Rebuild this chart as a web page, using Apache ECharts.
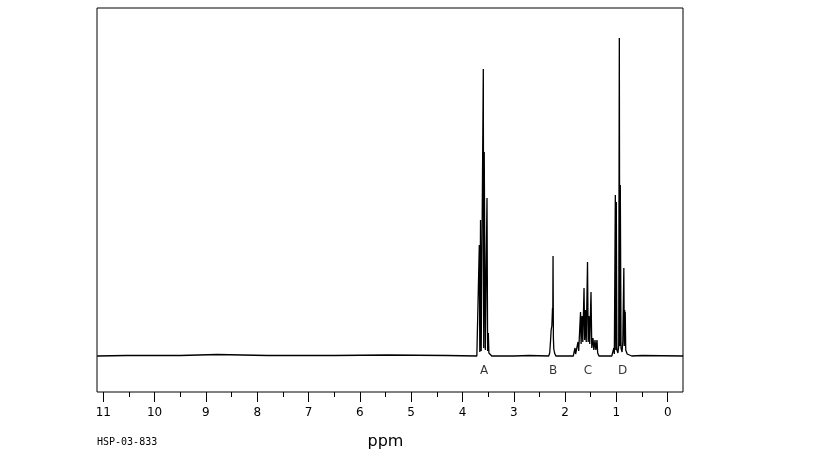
<!DOCTYPE html>
<html>
<head>
<meta charset="utf-8">
<script src="https://cdn.jsdelivr.net/npm/echarts@6/dist/echarts.min.js"></script>
<style>html,body{margin:0;padding:0;background:#fff}#c{width:819px;height:460px}</style>
</head>
<body>
<div id="c"></div>
<script>
// axis ticks (ppm)
var tickMin = 0, tickMax = 11, tickStep = 1;
// baseline with small noise [ppm, intensity]
var baseline = [[11.12,0],[10.55,0.5],[10.54,0],[9.5,0.5],[9.49,0],[8.78,1.5],[8.76,0],[7.8,0.5],[7.79,0],[6.5,0.5],[6.49,0],[5.46,1],[5.44,0],[4.3,0.5],[4.29,0],
  [3.0,0],[2.7,0.5],[2.69,0],[1.9,0],[0.7,0],[0.5,0.5],[0.49,0],[-0.3,0]];
var multipletA = [[3.72,0],[3.69,2],[3.672,111],[3.662,4],[3.648,136],[3.635,5],[3.61,3],[3.594,287],[3.586,8],[3.576,204],[3.555,6],[3.538,4],[3.522,158],[3.51,5],[3.496,23],[3.485,3],[3.46,1],[3.43,0]];
var multipletB = [[2.32,0],[2.30,3],[2.285,14],[2.272,26],[2.258,30],[2.25,28],[2.245,48],[2.24,36],[2.235,100],[2.228,18],[2.22,7],[2.205,3],[2.18,0]];
var multipletC = [[1.84,0],[1.815,2],[1.807,8],[1.795,2],[1.76,3],[1.748,14],[1.735,5],[1.712,6],[1.699,44],[1.688,12],[1.67,40],[1.655,14],[1.631,68],[1.618,16],[1.602,46],[1.588,14],[1.563,94],[1.55,14],[1.534,40],[1.52,12],[1.495,64],[1.48,8],[1.456,18],[1.44,6],[1.417,16],[1.40,6],[1.378,16],[1.365,3],[1.34,0]];
var multipletD = [[1.09,0],[1.06,2],[1.05,8],[1.04,2],[1.021,161],[1.012,6],[1.002,154],[0.99,6],[0.97,3],[0.955,10],[0.943,318],[0.934,10],[0.924,171],[0.91,8],[0.89,4],[0.875,14],[0.855,88],[0.846,10],[0.838,46],[0.833,20],[0.828,44],[0.818,6],[0.80,8],[0.79,2],[0.76,0]];
// peak group labels
var groupLabels = ['A','B','C','D'];
var groupPpm = [3.58, 2.235, 1.555, 0.88];

var spectrum = baseline.concat(multipletA, multipletB, multipletC, multipletD)
  .sort(function(a,b){return b[0]-a[0];});
var labelData = groupLabels.map(function(l,i){return {value:[groupPpm[i], -15], name:l};});

var chart = echarts.init(document.getElementById('c'), null, {renderer:'canvas'});
var font = 'DejaVu Sans';
chart.setOption({
  animation:false,
  backgroundColor:'#fff',
  grid:[
    {left:97, top:8, width:586, height:384, show:true, borderColor:'#000', borderWidth:1, backgroundColor:'transparent'},
    {left:103.3, top:8, width:564.4, height:384, show:false}
  ],
  xAxis:[
    {gridIndex:0, type:'value', inverse:true, min:-0.298, max:11.123, show:false},
    {gridIndex:1, type:'value', inverse:true, min:tickMin, max:tickMax, interval:tickStep, position:'bottom',
     axisLine:{show:false},
     axisTick:{show:true, length:10, lineStyle:{color:'#000', width:1}},
     minorTick:{show:true, splitNumber:2, length:5, lineStyle:{color:'#000', width:1}},
     splitLine:{show:false},
     axisLabel:{color:'#000', fontFamily:font, fontSize:12, margin:15},
     name:'ppm', nameLocation:'middle', nameGap:42,
     nameTextStyle:{color:'#000', fontFamily:font, fontSize:16}}
  ],
  yAxis:[
    {gridIndex:0, type:'value', min:-36, max:348, show:false},
    {gridIndex:1, type:'value', min:0, max:1, show:false}
  ],
  series:[
    {type:'line', xAxisIndex:0, yAxisIndex:0, data:spectrum, showSymbol:false, symbol:'none', smooth:false,
     lineStyle:{color:'#000', width:1.3}, silent:true},
    {type:'scatter', xAxisIndex:0, yAxisIndex:0, data:labelData, symbolSize:0,
     label:{show:true, position:'inside', formatter:'{b}', color:'#000', fontFamily:font, fontSize:12}, silent:true}
  ],
  graphic:[
    {type:'text', left:97, top:437, style:{text:'HSP-03-833', fill:'#000', font:'10px "DejaVu Sans Mono"'}}
  ]
});
</script>
</body>
</html>
